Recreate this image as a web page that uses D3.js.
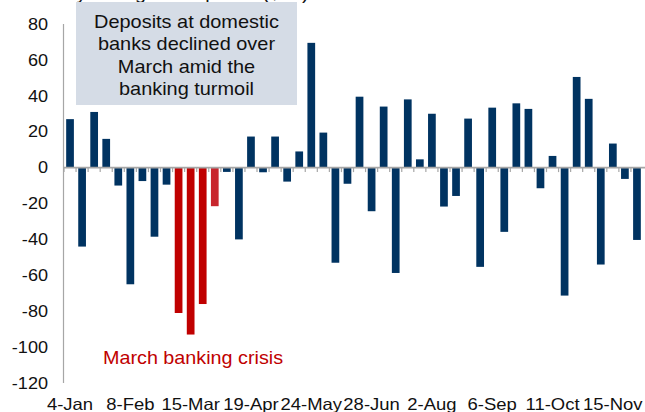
<!DOCTYPE html>
<html>
<head>
<meta charset="utf-8">
<script src="https://cdn.jsdelivr.net/npm/d3@7"></script>
<style>
  body { margin: 0; background: #fff; }
  text { font-family: "Liberation Sans", Arial, sans-serif; }
</style>
</head>
<body>
<script>
// weekly change in deposits at domestic banks, 2023
var weeks = ["4-Jan","11-Jan","18-Jan","25-Jan","1-Feb","8-Feb","15-Feb","22-Feb","1-Mar","8-Mar",
  "15-Mar","22-Mar","29-Mar","5-Apr","12-Apr","19-Apr","26-Apr","3-May","10-May","17-May",
  "24-May","31-May","7-Jun","14-Jun","21-Jun","28-Jun","5-Jul","12-Jul","19-Jul","26-Jul",
  "2-Aug","9-Aug","16-Aug","23-Aug","30-Aug","6-Sep","13-Sep","20-Sep","27-Sep","4-Oct",
  "11-Oct","18-Oct","25-Oct","1-Nov","8-Nov","15-Nov","22-Nov","29-Nov"];
var values = [27,-44,31,16,-10,-65,-7.5,-38.5,-9.5,-81,
  -93,-76,-21.5,-2.4,-40,17.3,-2.6,17.3,-7.8,9,
  69.5,19.5,-53,-9,39.5,-24.3,34,-58.7,38,4.6,
  30,-21.7,-15.8,27.3,-55.3,33.4,-35.8,35.8,32.7,-11.5,
  6.5,-71.3,50.5,38.3,-54,13.4,-6.3,-40.3];
var crisis = ["8-Mar","15-Mar","22-Mar","29-Mar"];
var xLabels = ["4-Jan","8-Feb","15-Mar","19-Apr","24-May","28-Jun","2-Aug","6-Sep","11-Oct","15-Nov"];
var yTicks = [80,60,40,20,0,-20,-40,-60,-80,-100,-120];
var noteLines = ["Deposits at domestic","banks declined over","March amid the","banking turmoil"];

var w = 645, h = 412;
var svg = d3.select("body").append("svg").attr("width", w).attr("height", h);

var x = d3.scaleBand().domain(weeks).range([64, 643]).paddingInner(0.36).paddingOuter(0.18);
var y = d3.scaleLinear().domain([-120, 80]).range([383, 24]);

// stretched text helper (source chart text is wider than normal)
function wideText(sel, sx) {
  sel.attr("transform", function() {
    var t = d3.select(this);
    var px = +t.attr("x"), py = +t.attr("y");
    return "translate(" + px + "," + py + ") scale(" + sx + ",1) translate(" + (-px) + "," + (-py) + ")";
  });
}

// cut-off title at the very top
svg.append("text").attr("x", 22).attr("y", -1).attr("font-size", 18).attr("fill", "#111")
  .text("Weekly change in deposits ($bn)").call(wideText, 1.1);

// note box
svg.append("rect").attr("x", 76).attr("y", 2).attr("width", 221).attr("height", 103).attr("fill", "#d5dce6");
svg.selectAll(".note").data(noteLines).enter().append("text")
  .attr("class", "note")
  .attr("x", 186.5)
  .attr("y", function(d, i) { return 28 + i * 22.5; })
  .attr("text-anchor", "middle").attr("font-size", 17.8).attr("fill", "#111")
  .text(function(d) { return d; })
  .call(wideText, 1.12);

// y axis
svg.append("line").attr("x1", 63.5).attr("x2", 63.5).attr("y1", y(80)).attr("y2", y(-120))
  .attr("stroke", "#a6a6a6").attr("stroke-width", 1.2);
svg.selectAll(".ylab").data(yTicks).enter().append("text")
  .attr("class", "ylab")
  .attr("x", 48).attr("y", function(d) { return y(d) + 5.8; })
  .attr("text-anchor", "end").attr("font-size", 16).attr("fill", "#111")
  .text(function(d) { return d; })
  .call(wideText, 1.13);

// bars
svg.selectAll(".bar").data(weeks).enter().append("rect")
  .attr("class", "bar")
  .attr("x", function(d) { return x(d); })
  .attr("width", x.bandwidth())
  .attr("y", function(d, i) { return y(Math.max(0, values[i])); })
  .attr("height", function(d, i) { return Math.abs(y(values[i]) - y(0)); })
  .attr("fill", function(d) {
    if (d === "29-Mar") return "#c8262d";
    return crisis.indexOf(d) >= 0 ? "#c00000" : "#003361";
  });

// x axis at zero with ticks between bars
svg.append("line").attr("x1", 64).attr("x2", 645).attr("y1", y(0)).attr("y2", y(0))
  .attr("stroke", "#a6a6a6").attr("stroke-width", 1.8);
svg.selectAll(".tick").data(weeks).enter().append("line")
  .attr("class", "tick")
  .attr("x1", function(d) { return x(d) - x.step() * x.paddingInner() / 2; })
  .attr("x2", function(d) { return x(d) - x.step() * x.paddingInner() / 2; })
  .attr("y1", y(0)).attr("y2", y(0) + 4.5)
  .attr("stroke", "#a6a6a6").attr("stroke-width", 1.2);

svg.selectAll(".xlab").data(xLabels).enter().append("text")
  .attr("class", "xlab")
  .attr("x", function(d) { return x(d) + x.bandwidth() / 2; })
  .attr("y", 410)
  .attr("text-anchor", "middle").attr("font-size", 16.5).attr("fill", "#111")
  .text(function(d) { return d; })
  .call(wideText, 1.12);

// crisis label
svg.append("text").attr("x", 103).attr("y", 364).attr("font-size", 19).attr("fill", "#c00000")
  .text("March banking crisis").call(wideText, 1.04);
</script>
</body>
</html>
